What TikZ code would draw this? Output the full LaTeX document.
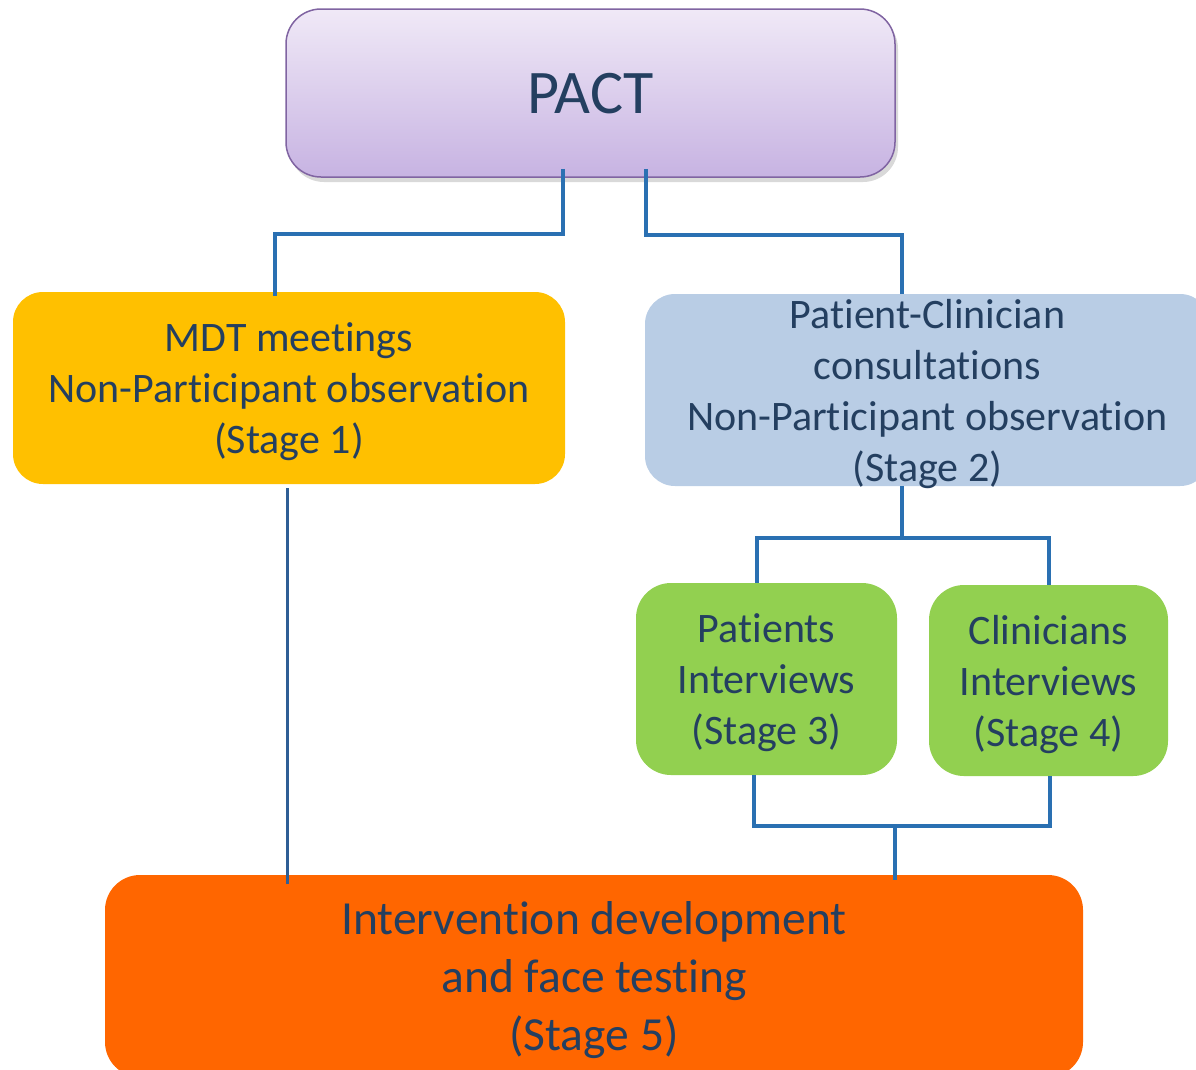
\documentclass[tikz,border=0pt]{standalone}
\usepackage{fontspec}
\setmainfont{Carlito}[Ligatures={NoCommon,NoRequired,NoContextual}]
\usetikzlibrary{shadows,calc}
\definecolor{txt}{HTML}{243F60}
\definecolor{pacttop}{HTML}{F0E9F7}
\definecolor{pactbot}{HTML}{C7B3E2}
\definecolor{pactedge}{HTML}{8064A2}
\definecolor{mdtfill}{HTML}{FFC000}
\definecolor{consfill}{HTML}{B9CDE5}
\definecolor{intfill}{HTML}{92D050}
\definecolor{devfill}{HTML}{FF6600}
\definecolor{linkblue}{HTML}{2A70B2}
\definecolor{linkdark}{HTML}{2F5E95}
\begin{document}
\begin{tikzpicture}[x=1pt,y=-1pt,
  box/.style={rounded corners=30pt, inner sep=0pt, align=center, text=txt,
              text depth=0pt, font=\fontsize{42}{51}\selectfont},
  link/.style={draw=linkblue, line width=4pt},
  thinlink/.style={draw=linkdark, line width=3pt}]
\useasboundingbox (0,0) rectangle (1196,1069);

% boxes
\node[box, minimum width=609pt, minimum height=168pt, rounded corners=35pt,
      top color=pacttop, bottom color=pactbot, draw=pactedge, line width=1.5pt,
      drop shadow={shadow xshift=3pt, shadow yshift=-5pt, opacity=0.3},
      text depth=-3pt, font=\fontsize{62}{70}\selectfont] (pact) at (590.5,93) {PACT};
\node[box, fill=mdtfill, minimum width=552pt, minimum height=192pt] (mdt) at (289,388)
  {MDT meetings\\Non-Participant observation\\(Stage 1)};
\node[box, fill=consfill, minimum width=565pt, minimum height=192pt] (consult) at (927.5,390)
  {Patient-Clinician\\consultations\\Non-Participant observation\\(Stage 2)};
\node[box, fill=intfill, rounded corners=35pt, minimum width=261pt, minimum height=192pt] (patients) at (766.5,679)
  {Patients\\Interviews\\(Stage 3)};
\node[box, fill=intfill, rounded corners=35pt, minimum width=239pt, minimum height=191pt] (clin) at (1048.5,680.5)
  {Clinicians\\Interviews\\(Stage 4)};
\node[box, fill=devfill, rounded corners=35pt, minimum width=978pt, minimum height=202pt,
      font=\fontsize{47.5}{58}\selectfont] (final) at (594,976)
  {Intervention development\\and face testing\\(Stage 5)};

% connectors
\draw[link] ([shift={(-27.5,-9)}]pact.south) -- ++(0,65) -| ([shift={(-14,4)}]mdt.north);
\draw[link] ([shift={(55.5,-9)}]pact.south) -- ++(0,66) -| ([shift={(-25.5,0)}]consult.north);

\coordinate (split) at ($(consult.south)+(-25.5,52)$);
\draw[link] ([xshift=-25.5pt]consult.south) -- (split);
\draw[link] ([xshift=-9.5pt]patients.north) |- (split) -| ([xshift=0.5pt]clin.north);

\coordinate (merge) at ($(patients.south)+(128.5,51)$);
\draw[link] ([xshift=-12.5pt]patients.south) |- (merge) -| ([xshift=1.5pt]clin.south);
\draw[link] (merge) -- ($(merge |- final.north)+(0,5)$);

\draw[thinlink] ($(mdt.south)+(-2,4)$) -- ($(mdt.south |- final.north)+(-2,9)$);
\end{tikzpicture}
\end{document}
